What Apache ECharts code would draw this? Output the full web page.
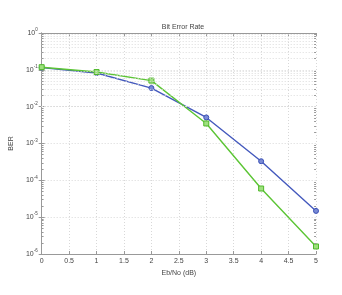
<!DOCTYPE html>
<html><head><meta charset="utf-8">
<script src="https://cdn.jsdelivr.net/npm/echarts@6/dist/echarts.min.js"></script>
<style>html,body{margin:0;padding:0;background:#fff}#c{width:342px;height:295px}</style>
</head><body><div id="c"></div>
<script>
const ebno = [0, 1, 2, 3, 4, 5];
const berBlue = [0.115, 0.082, 0.032, 0.0051, 0.00033, 0.0000148];
const berGreen = [0.118, 0.087, 0.051, 0.0035, 0.00006, 0.0000016];
const xTicks = [0, 0.5, 1, 1.5, 2, 2.5, 3, 3.5, 4, 4.5, 5];
const yExponents = [0, -1, -2, -3, -4, -5, -6];
const titleText = 'Bit Error Rate';
const xName = 'Eb/No (dB)';
const yName = 'BER';

const minorVals = [];
for (let e = -6; e < 0; e++) for (let m = 2; m <= 9; m++) minorVals.push(m * Math.pow(10, e));
const tickLen = 0.035;
const minorTickSegs = [];
minorVals.forEach(v => {
  minorTickSegs.push([{coord: [0, v]}, {coord: [tickLen, v]}]);
  minorTickSegs.push([{coord: [5 - tickLen, v]}, {coord: [5, v]}]);
});

const chart = echarts.init(document.getElementById('c'), null, {renderer: 'canvas'});
const axisCol = '#999';
const txtCol = '#444';
const gridLine = {show: true, lineStyle: {color: '#d8d8d8', type: [1, 2], width: 1}};
chart.setOption({
  animation: false,
  backgroundColor: '#fff',
  title: {text: titleText, left: 178, top: 19, textAlign: 'center',
    textStyle: {fontSize: 7, fontWeight: 'normal', color: txtCol, fontFamily: 'Liberation Sans'}},
  grid: {left: 41, right: 26, top: 33, bottom: 41},
  xAxis: [{
    type: 'value', min: 0, max: 5, interval: 0.5,
    name: xName, nameLocation: 'middle', nameGap: 12,
    nameTextStyle: {fontSize: 7, color: txtCol, fontFamily: 'Liberation Sans'},
    axisLine: {show: true, lineStyle: {color: axisCol}},
    axisTick: {show: true, inside: true, length: 3, lineStyle: {color: axisCol}},
    axisLabel: {fontSize: 7, color: txtCol, margin: 4, fontFamily: 'Liberation Sans',
      formatter: v => xTicks.indexOf(v) >= 0 ? String(v) : ''},
    splitLine: gridLine
  }, {
    type: 'value', min: 0, max: 5, interval: 0.5, position: 'top',
    axisLine: {show: true, lineStyle: {color: axisCol}},
    axisTick: {show: true, inside: true, length: 3, lineStyle: {color: axisCol}},
    axisLabel: {show: false}, splitLine: {show: false}
  }],
  yAxis: [{
    type: 'log', logBase: 10, min: 1e-6, max: 1,
    name: yName, nameLocation: 'middle', nameGap: 20,
    nameTextStyle: {fontSize: 7, color: txtCol, fontFamily: 'Liberation Sans'},
    axisLine: {show: true, lineStyle: {color: axisCol}},
    axisTick: {show: true, inside: true, length: 3, lineStyle: {color: axisCol}},
    axisLabel: {color: txtCol, margin: 4, fontFamily: 'Liberation Sans',
      formatter: v => {
        const e = Math.round(Math.log10(v));
        return yExponents.indexOf(e) >= 0 ? '{b|10}{s|' + e + '}' : '';
      },
      rich: {b: {fontSize: 7, color: txtCol}, s: {fontSize: 4.5, color: txtCol, verticalAlign: 'top', padding: [0, 0, 6, 0]}}},
    splitLine: gridLine
  }, {
    type: 'log', logBase: 10, min: 1e-6, max: 1, position: 'right',
    axisLine: {show: true, lineStyle: {color: axisCol}},
    axisTick: {show: true, inside: true, length: 3, lineStyle: {color: axisCol}},
    axisLabel: {show: false}, splitLine: {show: false}
  }],
  series: [{
    type: 'line', silent: true, data: [], z: 1,
    markLine: {silent: true, symbol: 'none', label: {show: false},
      lineStyle: {color: '#dcdcdc', type: [1, 2], width: 1},
      data: minorVals.map(v => ({yAxis: v}))}
  }, {
    type: 'line', silent: true, data: [], z: 2,
    markLine: {silent: true, symbol: 'none', label: {show: false},
      lineStyle: {color: axisCol, type: 'solid', width: 1},
      data: minorTickSegs}
  }, {
    type: 'line', name: 'blue', data: ebno.map((x, i) => [x, berBlue[i]]),
    symbol: 'circle', symbolSize: 5, z: 3,
    lineStyle: {color: '#4459bd', width: 1.4},
    itemStyle: {color: '#7a8bd6', borderColor: '#3a50b5', borderWidth: 1}
  }, {
    type: 'line', name: 'green', data: ebno.map((x, i) => [x, berGreen[i]]),
    symbol: 'rect', symbolSize: 5, z: 4,
    lineStyle: {color: '#5cc535', width: 1.4},
    itemStyle: {color: '#9ee07e', borderColor: '#4fb82a', borderWidth: 1}
  }]
});
</script></body></html>
